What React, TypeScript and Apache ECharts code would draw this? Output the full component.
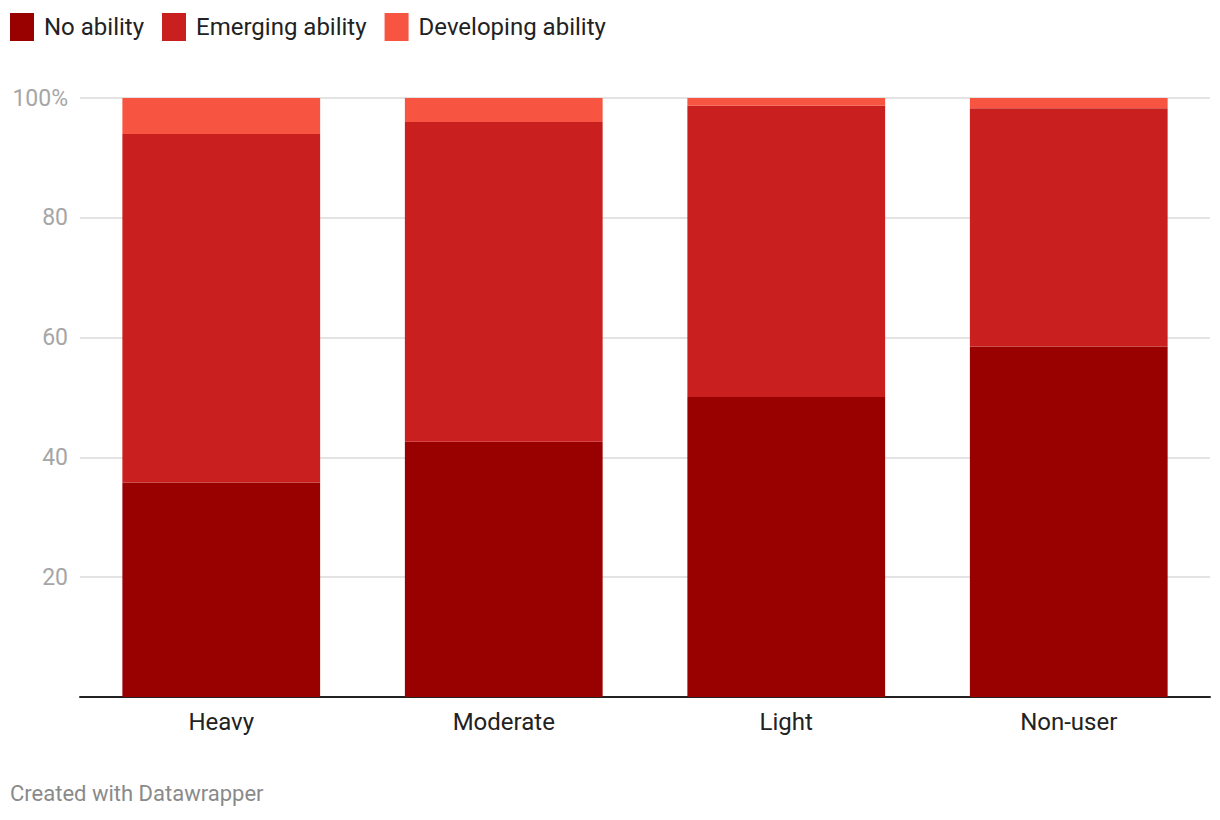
import React, { useEffect, useRef } from "react";
import * as echarts from "echarts";

const categories = ["Heavy", "Moderate", "Light", "Non-user"];
const noAbility = [35.8, 42.6, 50.1, 58.5];
const emergingAbility = [58.2, 53.4, 48.6, 39.8];
const developingAbility = [6.0, 4.0, 1.3, 1.7];
const seriesNames = ["No ability", "Emerging ability", "Developing ability"];
const colors = ["#990000", "#c91f1f", "#f75442"];

export default function App() {
  const ref = useRef<HTMLDivElement>(null);
  useEffect(() => {
    if (!ref.current) return;
    const chart = echarts.init(ref.current, null, { renderer: "svg" });
    const font = "Roboto, 'Noto Sans', sans-serif";
    const data = [noAbility, emergingAbility, developingAbility];
    chart.setOption({
      animation: false,
      textStyle: { fontFamily: font },
      legend: {
        left: 5,
        top: 8,
        itemWidth: 24,
        itemHeight: 28,
        itemGap: 18,
        icon: "rect",
        textStyle: { fontSize: 24, color: "#222", fontFamily: font, padding: [0, 0, 0, 5] },
        data: seriesNames,
      },
      grid: { left: 80, right: 10, top: 98, bottom: 123, containLabel: false },
      xAxis: {
        type: "category",
        data: categories,
        axisLine: { lineStyle: { color: "#222", width: 2 } },
        axisTick: { show: false },
        axisLabel: { fontSize: 24, color: "#222", margin: 13, fontFamily: font },
      },
      yAxis: {
        type: "value",
        min: 0,
        max: 100,
        interval: 20,
        axisLine: { show: false },
        axisTick: { show: false },
        splitLine: { lineStyle: { color: "#e3e3e3", width: 2 } },
        axisLabel: {
          fontSize: 23,
          color: "#a6a6a6",
          margin: 12,
          fontFamily: font,
          formatter: (v: number) => (v === 0 ? "" : v === 100 ? "100%" : String(v)),
        },
      },
      series: seriesNames.map((name, i) => ({
        name,
        type: "bar",
        stack: "total",
        barWidth: "70%",
        itemStyle: { color: colors[i] },
        data: data[i],
      })),
      graphic: [
        {
          type: "text",
          left: 10,
          top: 782,
          style: { text: "Created with Datawrapper", fontSize: 22, fill: "#8a8a8a", fontFamily: font },
        },
      ],
    });
    return () => chart.dispose();
  }, []);
  return <div ref={ref} style={{ width: 1220, height: 820, position: "absolute", left: 0, top: 0 }} />;
}
